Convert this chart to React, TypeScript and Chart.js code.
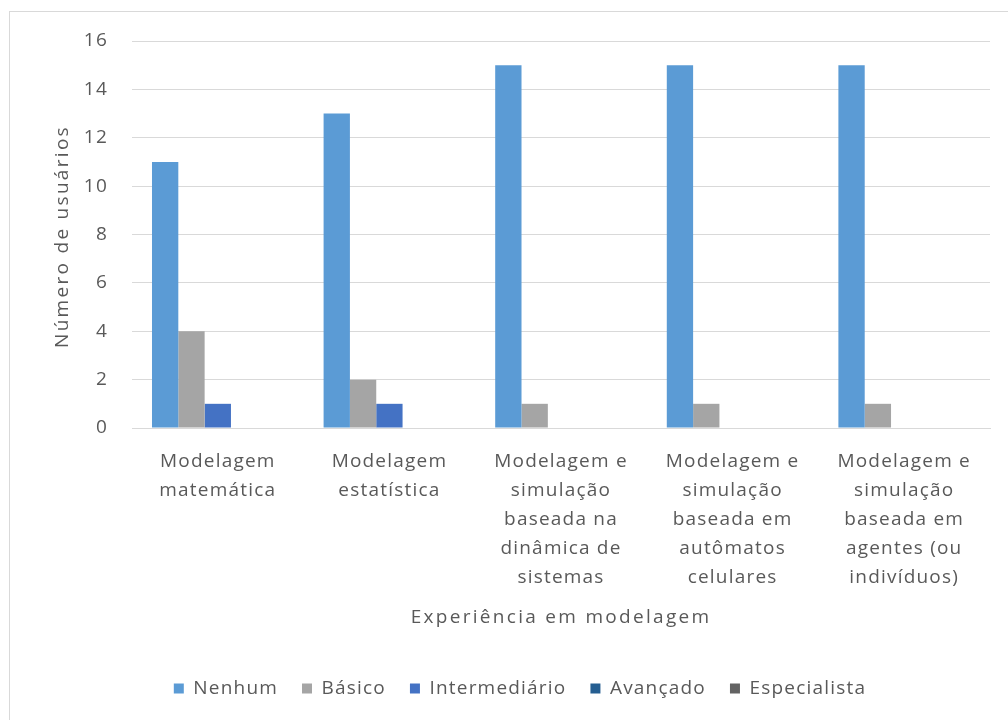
import React, { useEffect, useRef } from "react";
import { Chart, registerables } from "chart.js";

Chart.register(...registerables);

const categories: string[][] = [
  ["Modelagem", "matemática"],
  ["Modelagem", "estatística"],
  ["Modelagem e", "simulação", "baseada na", "dinâmica de", "sistemas"],
  ["Modelagem e", "simulação", "baseada em", "autômatos", "celulares"],
  ["Modelagem e", "simulação", "baseada em", "agentes (ou", "indivíduos)"],
];

const nenhum = [11, 13, 15, 15, 15];
const basico = [4, 2, 1, 1, 1];
const intermediario = [1, 1, 0, 0, 0];
const avancado = [0, 0, 0, 0, 0];
const especialista = [0, 0, 0, 0, 0];

const seriesNames = ["Nenhum", "Básico", "Intermediário", "Avançado", "Especialista"];
const seriesColors = ["#5B9BD5", "#A5A5A5", "#4472C4", "#255E91", "#636363"];

const yTitle = "Número de usuários";
const xTitle = "Experiência em modelagem";

const FONT = "'Open Sans', 'Noto Sans', sans-serif";
const TEXT = "#595959";
const SIZE = 19;

const spacingPlugin = {
  id: "spacing",
  beforeUpdate(chart: any) {
    chart.ctx.letterSpacing = "1.2px";
  },
  beforeDraw(chart: any) {
    chart.ctx.letterSpacing = "1.2px";
  },
  afterDraw(chart: any) {
    const ctx = chart.ctx;
    const ca = chart.chartArea;
    ctx.save();
    ctx.letterSpacing = "2.3px";
    ctx.fillStyle = TEXT;
    ctx.font = `${SIZE}px ${FONT}`;
    ctx.textAlign = "center";
    ctx.textBaseline = "middle";
    ctx.fillText(xTitle, (ca.left + ca.right) / 2, 618);
    ctx.translate(63, (ca.top + ca.bottom) / 2 + 2);
    ctx.rotate(-Math.PI / 2);
    ctx.fillText(yTitle, 0, 0);
    ctx.restore();
  },
};

export default function App() {
  const ref = useRef<HTMLCanvasElement | null>(null);

  useEffect(() => {
    if (!ref.current) return;
    const values = [nenhum, basico, intermediario, avancado, especialista];
    const chart = new Chart(ref.current, {
      type: "bar",
      data: {
        labels: categories,
        datasets: values.map((v, i) => ({
          label: seriesNames[i],
          data: v,
          backgroundColor: seriesColors[i],
          borderWidth: 0,
          categoryPercentage: 0.767,
          barPercentage: 1.0,
        })),
      },
      plugins: [spacingPlugin],
      options: {
        animation: false,
        responsive: false,
        maintainAspectRatio: false,
        layout: { padding: { left: 50, right: 18, top: 41, bottom: 12 } },
        plugins: {
          tooltip: { enabled: false },
          legend: {
            position: "bottom",
            labels: {
              boxWidth: 10,
              boxHeight: 10,
              padding: 24,
              color: TEXT,
              font: { family: FONT, size: SIZE },
            },
          },
        },
        scales: {
          x: {
            grid: { display: false },
            border: { display: true, color: "#d9d9d9", width: 1 },
            ticks: {
              color: TEXT,
              font: { family: FONT, size: SIZE, lineHeight: 1.53 },
              maxRotation: 0,
              autoSkip: false,
              padding: 11,
            },
            afterFit: (s: any) => {
              s.height = 227;
            },
          },
          y: {
            min: 0,
            max: 16,
            ticks: {
              stepSize: 2,
              color: TEXT,
              font: { family: FONT, size: SIZE },
              padding: 24,
            },
            grid: { color: "#d9d9d9", lineWidth: 1, drawTicks: false },
            border: { display: false },
            afterFit: (s: any) => {
              s.width = 82;
            },
          },
        },
      },
    });
    return () => chart.destroy();
  }, []);

  return (
    <div style={{ position: "fixed", left: 0, top: 0, width: 1008, height: 720, background: "#fff" }}>
      <div
        style={{
          position: "absolute",
          left: 9,
          top: 11,
          width: 1100,
          height: 800,
          border: "1px solid #d9d9d9",
          boxSizing: "border-box",
        }}
      />
      <canvas ref={ref} width={1008} height={720} style={{ position: "absolute", left: 0, top: 0 }} />
    </div>
  );
}
